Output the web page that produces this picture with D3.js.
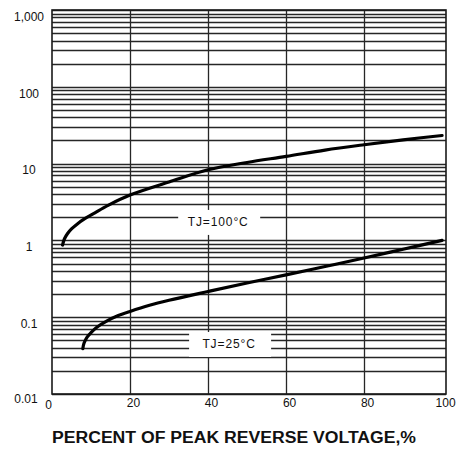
<!DOCTYPE html>
<html>
<head>
<meta charset="utf-8">
<script src="https://cdn.jsdelivr.net/npm/d3@7"></script>
<style>
  body { margin: 0; background: #fff; }
  svg text { font-family: "Liberation Sans", Arial, sans-serif; fill: #111; }
</style>
</head>
<body>
<div id="chart"></div>
<script>
// curve readings (percent of peak reverse voltage -> reverse current)
var pctHot = [2.7, 3.2, 4, 5, 6.5, 8.5, 11, 14.5, 20, 30, 40, 50, 60, 70, 80, 90, 100];
var curHot = [0.87, 1.05, 1.23, 1.41, 1.64, 1.93, 2.29, 2.88, 3.89, 5.75, 8.3, 10.35, 12.4, 15.0, 17.6, 20.4, 23.2];
var pctCold = [7.9, 8.2, 9, 10, 11.5, 14, 17, 20, 25, 30, 40, 50, 60, 70, 80, 90, 100];
var curCold = [0.0389, 0.0457, 0.055, 0.063, 0.074, 0.089, 0.105, 0.119, 0.143, 0.166, 0.216, 0.279, 0.355, 0.457, 0.589, 0.767, 1.0];

var xTicks = [0, 20, 40, 60, 80, 100];
var yTicks = [0.01, 0.1, 1, 10, 100, 1000];
var yTickText = ["0.01", "0.1", "1", "10", "100", "1,000"];
var curveLabels = ["TJ=100°C", "TJ=25°C"];
var labelAt = [[42.6, 1.74], [45.4, 0.0448]];
var xTitle = "PERCENT OF PEAK REVERSE VOLTAGE,%";

var width = 458, height = 450,
    margin = {top: 10, right: 12, bottom: 56, left: 52};

var svg = d3.select("#chart").append("svg")
  .attr("width", width)
  .attr("height", height);

var x = d3.scaleLinear().domain([0, 101]).range([margin.left, width - margin.right]);
var y = d3.scaleLog().domain([0.01, 1000]).range([height - margin.bottom, margin.top]);

// horizontal grid: every minor step of each decade
var minor = [];
yTicks.slice(0, -1).forEach(function(d) {
  for (var k = 1; k <= 9; k++) minor.push(d * k);
});
minor.push(1000);

var grid = svg.append("g").attr("stroke", "#262626").attr("stroke-width", 1.3);
grid.selectAll("line.h")
  .data(minor)
  .enter().append("line")
  .attr("class", "h")
  .attr("x1", x(0)).attr("x2", x(101))
  .attr("y1", d => Math.round(y(d)) + 0.5)
  .attr("y2", d => Math.round(y(d)) + 0.5);

grid.selectAll("line.v")
  .data(xTicks.slice(1, -1))
  .enter().append("line")
  .attr("class", "v")
  .attr("x1", d => Math.round(x(d)) + 0.5).attr("x2", d => Math.round(x(d)) + 0.5)
  .attr("y1", y(1000)).attr("y2", y(0.01));

svg.append("rect")
  .attr("x", x(0)).attr("y", y(1000))
  .attr("width", x(101) - x(0)).attr("height", y(0.01) - y(1000))
  .attr("fill", "none").attr("stroke", "#1a1a1a").attr("stroke-width", 1.6);

// curves
var line = d3.line()
  .x(d => x(d[0]))
  .y(d => y(d[1]))
  .curve(d3.curveCatmullRom.alpha(0.5));

svg.append("path")
  .datum(pctHot.map((p, i) => [p, curHot[i]]))
  .attr("d", line)
  .attr("fill", "none").attr("stroke", "#000").attr("stroke-width", 3.2)
  .attr("stroke-linecap", "round");

svg.append("path")
  .datum(pctCold.map((p, i) => [p, curCold[i]]))
  .attr("d", line)
  .attr("fill", "none").attr("stroke", "#000").attr("stroke-width", 3.2)
  .attr("stroke-linecap", "round");

// curve labels on white boxes
curveLabels.forEach(function(t, i) {
  var cx = x(labelAt[i][0]), cy = y(labelAt[i][1]);
  svg.append("rect")
    .attr("x", cx - 40).attr("y", cy - 12)
    .attr("width", 82).attr("height", 25)
    .attr("fill", "#fff");
  svg.append("text")
    .attr("x", cx).attr("y", cy + 4.5)
    .attr("text-anchor", "middle")
    .style("font-size", "12px")
    .style("letter-spacing", "0.9px")
    .text(t);
});

// y axis labels
var yAxis = d3.axisLeft(y)
  .tickValues(yTicks)
  .tickFormat((d, i) => yTickText[i])
  .tickSize(0);

var ya = svg.append("g")
  .attr("transform", `translate(${margin.left},0)`)
  .call(yAxis);
ya.select(".domain").remove();
ya.selectAll("text")
  .attr("x", -23).attr("dy", "0.85em")
  .attr("text-anchor", "middle")
  .style("font-size", "12px")
  .style("font-family", "Liberation Sans, Arial, sans-serif")
  .attr("fill", "#111")
  .filter(d => d === 0.01).attr("x", -26).attr("dy", "0.7em");

// x axis labels
var xAxis = d3.axisBottom(x)
  .tickValues(xTicks)
  .tickSize(0);

var xa = svg.append("g")
  .attr("transform", `translate(0,${height - margin.bottom})`)
  .call(xAxis);
xa.select(".domain").remove();
xa.selectAll("text")
  .attr("y", 4).attr("dx", 3)
  .style("font-size", "12px")
  .style("font-family", "Liberation Sans, Arial, sans-serif")
  .attr("fill", "#111")
  .filter(d => d === 0).attr("dx", -4).attr("y", 6);

svg.append("text")
  .attr("x", 234).attr("y", 443)
  .attr("text-anchor", "middle")
  .attr("textLength", 364)
  .attr("lengthAdjust", "spacingAndGlyphs")
  .style("font-size", "16px")
  .style("font-weight", "bold")
  .text(xTitle);
</script>
</body>
</html>
